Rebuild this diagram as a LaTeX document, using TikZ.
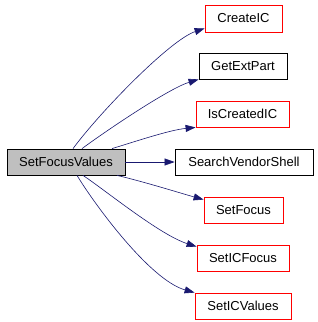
\documentclass[tikz,border=0pt]{standalone}
\usepackage{fontspec}
\setmainfont{Liberation Sans}
\usetikzlibrary{arrows.meta}
\definecolor{edgeblue}{RGB}{25,25,112}
\definecolor{boxgray}{RGB}{191,191,191}
\begin{document}
\begin{tikzpicture}[x=1pt,y=-1pt,
  box/.style={draw=black,line width=0.8pt,fill=white,minimum height=26pt,inner sep=0pt,font=\fontsize{13}{15}\selectfont},
  redbox/.style={box,draw=red},
  edge/.style={draw=edgeblue,line width=0.6pt,-{Triangle[length=10pt,width=7pt]}}]
\useasboundingbox (0,0) rectangle (317,322);
\node[box,fill=boxgray,minimum width=118pt] (sfv) at (66,162) {SetFocusValues};
\node[redbox,minimum width=77pt,minimum height=27pt] (cic) at (243.5,18.5) {CreateIC};
\node[box,minimum width=88pt] (gep) at (243,66) {GetExtPart};
\node[redbox,minimum width=93pt] (icic) at (242.5,114) {IsCreatedIC};
\node[box,minimum width=138pt] (svs) at (244,162) {SearchVendorShell};
\node[redbox,minimum width=79pt] (sf) at (243.5,210) {SetFocus};
\node[redbox,minimum width=92pt] (sicf) at (243,258) {SetICFocus};
\node[redbox,minimum width=96pt] (sicv) at (243,306) {SetICValues};
\draw[edge] ([xshift=7pt]sfv.north) .. controls (100,112) and (170,40) .. ([yshift=4pt]cic.south west);
\draw[edge] ([xshift=16pt]sfv.north) .. controls (110,128) and (170,88) .. (gep.south west);
\draw[edge] ([xshift=46pt]sfv.north) .. controls (140,140) and (170,130) .. (icic.south west);
\draw[edge] (sfv.east) -- (svs.west);
\draw[edge] ([xshift=51pt]sfv.south) .. controls (145,182) and (180,193) .. ([yshift=-3pt]sf.north west);
\draw[edge] ([xshift=17pt]sfv.south) .. controls (105,190) and (160,235) .. ([yshift=-2pt]sicf.north west);
\draw[edge] ([xshift=11pt]sfv.south) .. controls (95,205) and (150,280) .. (sicv.north west);
\end{tikzpicture}
\end{document}
